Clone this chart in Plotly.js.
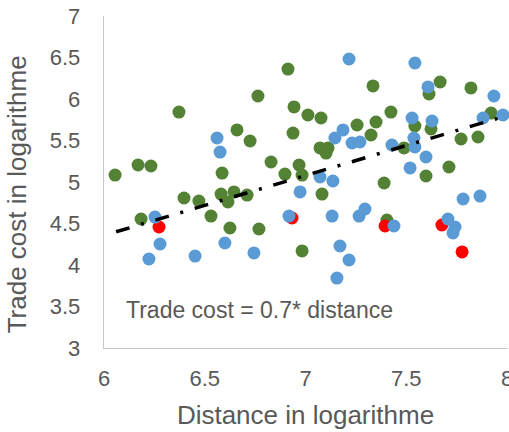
<!DOCTYPE html>
<html>
<head>
<meta charset="utf-8">
<script src="https://cdn.plot.ly/plotly-3.0.1.min.js"></script>
<style>html,body{margin:0;padding:0;background:#fff;}#chart{width:509px;height:432px;}</style>
</head>
<body>
<div id="chart"></div>
<script>
// Green series
const greenX = [6.055,6.169,6.233,6.372,6.586,6.660,6.764,6.913,6.943,7.012,7.077,6.725,6.938,6.829,6.968,6.898,6.983,7.256,7.335,7.325,7.072,7.112,7.102,7.424,7.350,7.543,7.613,7.668,7.821,7.921,7.623,7.489,7.772,7.856,7.712,7.598,7.390,6.184,6.397,6.471,6.581,6.645,6.615,6.710,6.531,6.625,6.769,7.082,6.983,7.404];
const greenY = [5.084,5.205,5.193,5.843,5.108,5.627,6.036,6.361,5.904,5.807,5.771,5.494,5.590,5.241,5.205,5.096,5.084,5.687,6.157,5.566,5.410,5.410,5.349,5.843,5.723,5.675,6.060,6.205,6.133,5.831,5.639,5.410,5.518,5.542,5.181,5.072,4.988,4.554,4.807,4.771,4.855,4.880,4.759,4.843,4.590,4.446,4.434,4.855,4.169,4.542];
// Red series
const redX = [6.273,6.933,7.395,7.677,7.777];
const redY = [4.458,4.566,4.470,4.482,4.157];
// Blue series
const blueX = [6.561,6.576,7.216,7.543,7.608,7.935,7.980,7.881,7.529,7.628,7.186,7.146,7.231,7.270,7.429,7.538,7.543,7.598,7.519,7.072,7.136,6.973,6.253,6.278,6.223,6.452,6.600,6.918,6.744,7.132,7.266,7.295,7.171,7.216,7.156,7.782,7.866,7.439,7.707,7.742,7.732];
const blueY = [5.530,5.361,6.482,6.434,6.145,6.036,5.807,5.771,5.771,5.735,5.627,5.530,5.470,5.482,5.446,5.530,5.422,5.301,5.169,5.060,5.012,4.880,4.578,4.253,4.072,4.108,4.265,4.590,4.145,4.590,4.590,4.675,4.229,4.060,3.843,4.795,4.831,4.470,4.554,4.458,4.386];
// Trend line
const trendX = [6.06, 8.0];
const trendY = [4.40, 5.80];
const xTicks = [6, 6.5, 7, 7.5, 8];
const xTickText = ['6', '6.5', '7', '7.5', '8'];
const yTicks = [3, 3.5, 4, 4.5, 5, 5.5, 6, 6.5, 7];
const yTickText = ['3', '3.5', '4', '4.5', '5', '5.5', '6', '6.5', '7'];

const FONT = 'Liberation Sans, Arial, sans-serif';
const TXT = '#595959';

const traces = [
  {x: greenX, y: greenY, type: 'scatter', mode: 'markers', marker: {color: '#548235', size: 13}, cliponaxis: false, hoverinfo: 'skip'},
  {x: redX, y: redY, type: 'scatter', mode: 'markers', marker: {color: '#FF0000', size: 13}, cliponaxis: false, hoverinfo: 'skip'},
  {x: blueX, y: blueY, type: 'scatter', mode: 'markers', marker: {color: '#5B9BD5', size: 13}, cliponaxis: false, hoverinfo: 'skip'},
  {x: trendX, y: trendY, type: 'scatter', mode: 'lines', line: {color: '#000000', width: 3.5, dash: '14px,12px,3px,12px'}, hoverinfo: 'skip'}
];

const layout = {
  width: 509, height: 432,
  margin: {l: 104, r: 2, t: 16, b: 84, pad: 0},
  paper_bgcolor: '#ffffff', plot_bgcolor: '#ffffff',
  showlegend: false,
  font: {family: FONT, color: TXT},
  xaxis: {
    range: [6, 8], tickvals: xTicks, ticktext: xTickText,
    showgrid: false, zeroline: false, showline: true, linecolor: '#c9c9c9', linewidth: 1.3,
    ticks: '', ticklabelstandoff: 10, ticklabeloverflow: 'allow',
    tickfont: {family: FONT, size: 22, color: TXT},
    title: {text: 'Distance in logarithme', font: {family: FONT, size: 26, color: TXT}, standoff: 16}
  },
  yaxis: {
    range: [3, 7], tickvals: yTicks, ticktext: yTickText,
    showgrid: false, zeroline: false, showline: true, linecolor: '#c9c9c9', linewidth: 1.3,
    ticks: '', ticklabelstandoff: 18, ticklabeloverflow: 'allow',
    tickfont: {family: FONT, size: 22, color: TXT}
  },
  annotations: [
    {text: 'Trade cost in logarithme', xref: 'paper', yref: 'paper', x: -0.215, y: 0.464,
     xanchor: 'center', yanchor: 'middle', textangle: -90, showarrow: false,
     font: {family: FONT, size: 26, color: TXT}},
    {text: 'Trade cost = 0.7* distance', xref: 'paper', yref: 'paper', x: 0.386, y: 0.114,
     xanchor: 'center', yanchor: 'middle', showarrow: false,
     font: {family: FONT, size: 23, color: TXT}}
  ]
};

Plotly.newPlot('chart', traces, layout, {staticPlot: true, displayModeBar: false});
</script>
</body>
</html>
